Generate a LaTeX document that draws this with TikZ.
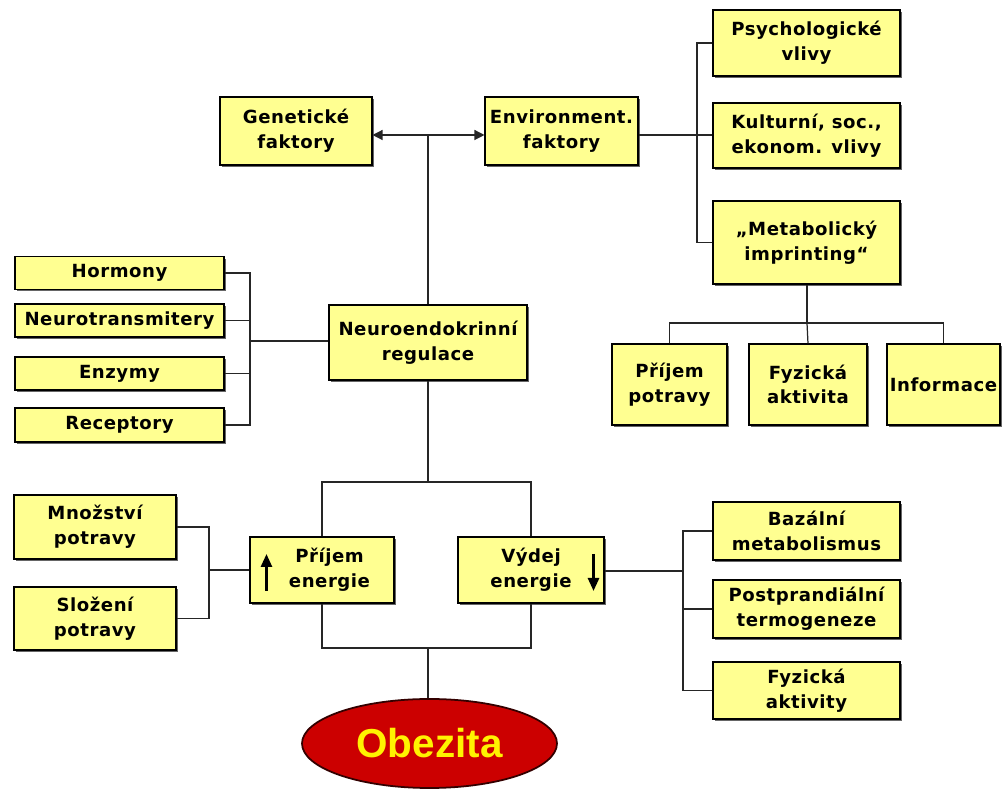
\documentclass[tikz,border=0pt]{standalone}
\usepackage{fontspec}
\setmainfont{DejaVu Sans}
\newfontfamily\boxfont[LetterSpace=3]{DejaVu Sans}
\newfontfamily\obezfont{Liberation Sans}
\usepackage{tikz}
\usetikzlibrary{calc}
\usetikzlibrary{shapes.geometric}
\usetikzlibrary{shadows}
\usetikzlibrary{arrows.meta}
\definecolor{boxyellow}{RGB}{255,255,145}
\definecolor{obezred}{RGB}{204,0,0}
\tikzset{
	% yellow boxes with a small grey shadow, and the red oval at the bottom
	fact box/.style={rectangle,draw=black,line width=0.6pt,fill=boxyellow,inner sep=0,align=center,
		font=\boxfont\bfseries\fontsize{10.3}{14}\selectfont,
		drop shadow={shadow xshift=0.45mm,shadow yshift=-0.45mm,fill=black!60,opacity=1}},
	oval node/.style={ellipse,draw=black!80!red,line width=1pt,fill=obezred,inner sep=0,
		text=yellow,font=\obezfont\bfseries\fontsize{23}{26}\selectfont},
	link/.style={draw=black!85,line width=0.7pt},
	energy arrow/.style={line width=1.5pt,-{Triangle[length=2.6mm,width=2.2mm]}}
}

\begin{document}
\begin{tikzpicture}[x=0.2mm,y=-0.2mm]
	\useasboundingbox (0,0) rectangle (1008,791);
	
	% top row
	\node(gen)[fact box,minimum width=30.4mm,minimum height=13.6mm] at (296,131) {Genetické\\faktory};
	\node(env)[fact box,minimum width=30.6mm,minimum height=13.6mm] at (561.5,131) {Environment.\\faktory};
	
	% environmental influences
	\node(psy)[fact box,minimum width=37.4mm,minimum height=13.2mm] at (806.5,43) {Psychologické\\vlivy};
	\node(kul)[fact box,minimum width=37.4mm,minimum height=13mm] at (806.5,135.5) {Kulturní, soc.,\\ekonom. vlivy};
	\node(met)[fact box,minimum width=37.4mm,minimum height=16.6mm] at (806.5,242.5) {„Metabolický\\imprinting“};
	\node(prp)[fact box,minimum width=23mm,minimum height=16.2mm] at (669.5,384.5) {Příjem\\potravy};
	\node(fyz)[fact box,minimum width=23.6mm,minimum height=16.2mm] at (808,384.5) {Fyzická\\aktivita};
	\node(inf)[fact box,minimum width=22.6mm,minimum height=16.2mm] at (943.5,384.5) {Informace};
	
	% regulation
	\node(horm)[fact box,minimum width=41.8mm,minimum height=6.5mm] at (119.5,273) {Hormony};
	\node(ntr)[fact box,minimum width=41.8mm,minimum height=6.6mm] at (119.5,320.5) {Neurotransmitery};
	\node(enz)[fact box,minimum width=41.8mm,minimum height=6.6mm] at (119.5,373.5) {Enzymy};
	\node(rec)[fact box,minimum width=41.8mm,minimum height=6.8mm] at (119.5,425) {Receptory};
	\node(neuro)[fact box,minimum width=39.6mm,minimum height=15mm] at (428,342.5) {Neuroendokrinní\\regulace};
	
	% energy balance
	\node(mn)[fact box,minimum width=32.4mm,minimum height=12.8mm] at (95,527) {Množství\\potravy};
	\node(sl)[fact box,minimum width=32.4mm,minimum height=12.6mm] at (95,618.5) {Složení\\potravy};
	\node(pe)[fact box,minimum width=28.8mm,minimum height=13.2mm] at (322,570) {\hspace*{3mm}Příjem\\\hspace*{3mm}energie};
	\node(ve)[fact box,minimum width=29.2mm,minimum height=13.2mm] at (531,570) {Výdej\\energie};
	\node(baz)[fact box,minimum width=37.4mm,minimum height=11.6mm] at (806.5,531) {Bazální\\metabolismus};
	\node(pos)[fact box,minimum width=37.4mm,minimum height=11.6mm] at (806.5,609) {Postprandiální\\termogeneze};
	\node(fa)[fact box,minimum width=37.4mm,minimum height=11.4mm] at (806.5,690.5) {Fyzická\\aktivity};
	
	\node(obez)[oval node,minimum width=51mm,minimum height=17.8mm] at (429.5,743.5) {Obezita};
	
	% arrows inside the energy boxes
	\draw[energy arrow] ($(pe.west)+(17,21)$) -- ($(pe.west)+(17,-16)$);
	\draw[energy arrow] ($(ve.east)+(-11,-16)$) -- ($(ve.east)+(-11,21)$);
	
	% bus points
	\coordinate(nb) at (250,341);
	\coordinate(eb) at (697,135);
	\coordinate(mt) at (807,323);
	\coordinate(ft) at (428,482);
	\coordinate(fb) at (428,648);
	\coordinate(fd) at (209,570);
	\coordinate(vb) at (683,571);
	
	% connectors
	\draw[link,{Triangle[length=2mm,width=2mm]}-{Triangle[length=2mm,width=2mm]}] (gen.east |- eb) -- (env.west |- eb);
	\draw[link] (neuro.north) -- (neuro.north |- eb);
	\draw[link] (env.east |- eb) -- (eb);
	\draw[link] (psy.west) -| (eb) |- (met.west);
	\draw[link] (eb) -- (kul.west |- eb);
	\draw[link] (met.south -| mt) -- (mt);
	\draw[link] (prp.north) |- (mt) -| (inf.north);
	\draw[link] (mt) -- (fyz.north);
	\draw[link] (horm.east) -| (nb) |- (rec.east);
	\draw[link] (ntr.east) -- (ntr.east -| nb);
	\draw[link] (enz.east) -- (enz.east -| nb);
	\draw[link] (nb) -- (neuro.west |- nb);
	\draw[link] (neuro.south) -- (ft);
	\draw[link] (pe.north) |- (ft) -| (ve.north);
	\draw[link] (pe.south) |- (fb) -| (ve.south);
	\draw[link] (fb) -- (fb |- obez.north);
	\draw[link] (mn.east) -| (fd) |- (sl.east);
	\draw[link] (fd) -- (fd -| pe.west);
	\draw[link] (ve.east |- vb) -- (vb);
	\draw[link] (baz.west) -| (vb) |- (fa.west);
	\draw[link] (pos.west) -- (pos.west -| vb);
\end{tikzpicture}
\end{document}
